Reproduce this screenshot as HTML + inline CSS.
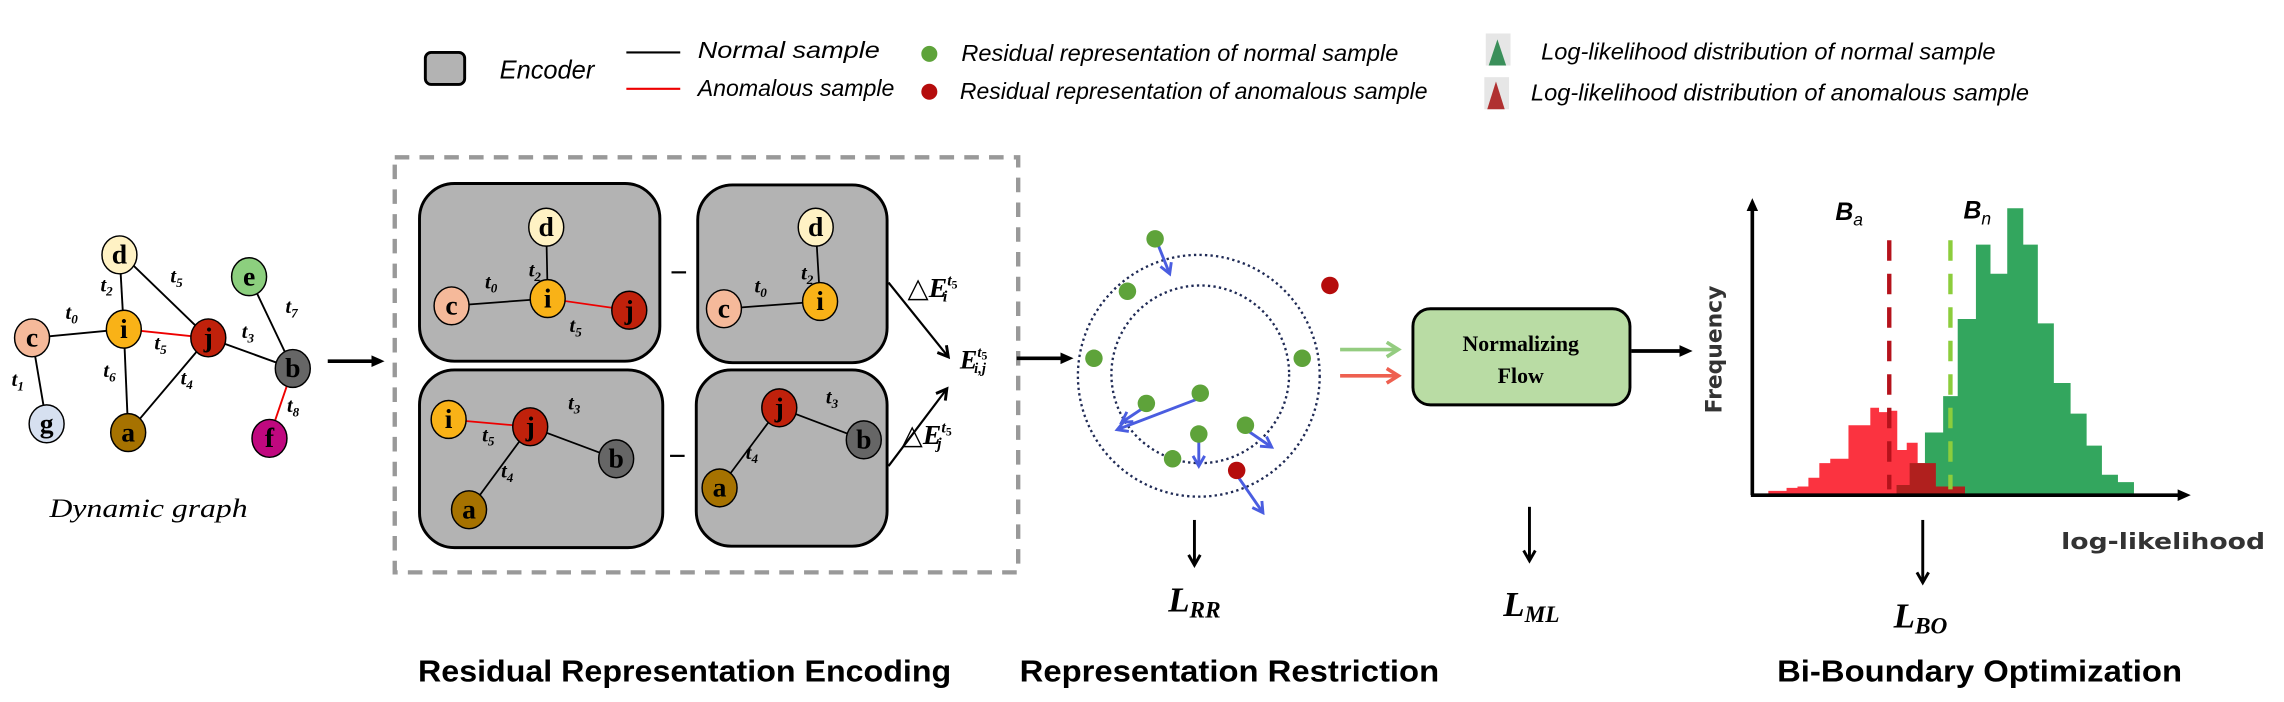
<!DOCTYPE html>
<html><head><meta charset="utf-8"><style>
html,body{margin:0;padding:0;background:#fff;width:2284px;height:702px;overflow:hidden}
svg{display:block}
.n{font-family:"Liberation Serif",serif;font-weight:bold;font-size:19px;text-anchor:middle}
.t{font-family:"Liberation Serif",serif;font-weight:bold;font-style:italic;font-size:14px}
.lg{font-family:"Liberation Sans",sans-serif;font-style:italic;font-size:14px}
.ti{font-family:"Liberation Sans",sans-serif;font-weight:bold;font-size:21px;text-anchor:middle}
.L{font-family:"Liberation Serif",serif;font-weight:bold;font-style:italic;font-size:24px}
</style></head><body>
<svg width="2284" height="702" viewBox="0 0 1568 482" preserveAspectRatio="none" xmlns="http://www.w3.org/2000/svg">
<defs>
<marker id="ah" markerWidth="10" markerHeight="10" refX="8" refY="5" orient="auto" markerUnits="userSpaceOnUse"><path d="M1,1 L8,5 L1,9" fill="none" stroke="#000" stroke-width="2"/></marker>
<marker id="bh" markerWidth="10" markerHeight="10" refX="8" refY="5" orient="auto" markerUnits="userSpaceOnUse"><path d="M1,1 L8,5 L1,9" fill="none" stroke="#4a5de0" stroke-width="2"/></marker>
<marker id="gh" markerWidth="12" markerHeight="12" refX="9" refY="6" orient="auto" markerUnits="userSpaceOnUse"><path d="M1,1 L9,6 L1,11" fill="none" stroke="#94cc80" stroke-width="2.5"/></marker>
<marker id="rh" markerWidth="12" markerHeight="12" refX="9" refY="6" orient="auto" markerUnits="userSpaceOnUse"><path d="M1,1 L9,6 L1,11" fill="none" stroke="#ee6050" stroke-width="2.5"/></marker>
<marker id="kh" markerWidth="10" markerHeight="10" refX="5" refY="5" orient="auto" markerUnits="userSpaceOnUse"><path d="M0,1 L9,5 L0,9 z" fill="#000"/></marker>
</defs>

<rect x="292" y="36" width="27" height="22" rx="4" fill="#b3b3b3" stroke="#000" stroke-width="2"/>
<text class="lg" x="343" y="54" style="font-size:18px" textLength="65" lengthAdjust="spacingAndGlyphs">Encoder</text>
<line x1="430" y1="36" x2="467" y2="36" stroke="#000" stroke-width="1.5"/>
<line x1="430" y1="61" x2="467" y2="61" stroke="#e00" stroke-width="1.5"/>
<text class="lg" x="479" y="40" style="font-size:16px" textLength="125" lengthAdjust="spacingAndGlyphs">Normal sample</text>
<text class="lg" x="479" y="66" style="font-size:16px" textLength="135" lengthAdjust="spacingAndGlyphs">Anomalous sample</text>
<circle cx="638" cy="37" r="5.5" fill="#5ea33a"/>
<circle cx="638" cy="63" r="5.5" fill="#b50c0c"/>
<text class="lg" x="660" y="42" style="font-size:16px" textLength="300" lengthAdjust="spacingAndGlyphs">Residual representation of normal sample</text>
<text class="lg" x="659" y="68" style="font-size:16px" textLength="321" lengthAdjust="spacingAndGlyphs">Residual representation of anomalous sample</text>
<rect x="1020" y="23" width="17" height="22" fill="#e6e6e6"/>
<path d="M1022,45 L1028,27 L1034,45 z" fill="#3a8f5a"/>
<rect x="1019" y="53" width="17" height="22" fill="#e6e6e6"/>
<path d="M1021,75 L1027,56 L1033,75 z" fill="#b03030"/>
<text class="lg" x="1058" y="41" style="font-size:16px" textLength="312" lengthAdjust="spacingAndGlyphs">Log-likelihood distribution of normal sample</text>
<text class="lg" x="1051" y="69" style="font-size:16px" textLength="342" lengthAdjust="spacingAndGlyphs">Log-likelihood distribution of anomalous sample</text>

<g stroke="#000" stroke-width="1.3">
<line x1="22" y1="232" x2="85" y2="226"/><line x1="85" y1="226" x2="82" y2="173"/>
<line x1="82" y1="173" x2="143" y2="232"/><line x1="85" y1="226" x2="88" y2="297"/>
<line x1="143" y1="232" x2="88" y2="297"/><line x1="143" y1="232" x2="201" y2="253"/>
<line x1="171" y1="190" x2="201" y2="253"/><line x1="22" y1="232" x2="32" y2="291"/>
<line x1="85" y1="226" x2="143" y2="232" stroke="#e00"/><line x1="201" y1="253" x2="185" y2="300" stroke="#e00"/>
</g>
<g stroke="#000" stroke-width="1">
<ellipse cx="82" cy="175" rx="12" ry="13" fill="#fff2c4"/>
<ellipse cx="22" cy="232" rx="12" ry="13" fill="#f5b99a"/>
<ellipse cx="85" cy="226" rx="12" ry="13" fill="#f9b217"/>
<ellipse cx="143" cy="232" rx="12" ry="13" fill="#c0210b"/>
<ellipse cx="171" cy="190" rx="12" ry="13" fill="#8ccf7e"/>
<ellipse cx="201" cy="253" rx="12" ry="13" fill="#666"/>
<ellipse cx="32" cy="291" rx="12" ry="13" fill="#d6e0f0"/>
<ellipse cx="88" cy="297" rx="12" ry="13" fill="#a67200"/>
<ellipse cx="185" cy="301" rx="12" ry="13" fill="#c0087f"/>
</g>
<text class="n" x="82" y="181">d</text><text class="n" x="22" y="238">c</text><text class="n" x="85" y="232">i</text><text class="n" x="143" y="238">j</text><text class="n" x="171" y="196">e</text><text class="n" x="201" y="259">b</text><text class="n" x="32" y="297">g</text><text class="n" x="88" y="303">a</text><text class="n" x="185" y="307">f</text>
<text class="t" x="45" y="219">t<tspan font-size="9" dy="3">0</tspan></text>
<text class="t" x="69" y="200">t<tspan font-size="9" dy="3">2</tspan></text>
<text class="t" x="117" y="194">t<tspan font-size="9" dy="3">5</tspan></text>
<text class="t" x="196" y="215">t<tspan font-size="9" dy="3">7</tspan></text>
<text class="t" x="8" y="265">t<tspan font-size="9" dy="3">1</tspan></text>
<text class="t" x="71" y="259">t<tspan font-size="9" dy="3">6</tspan></text>
<text class="t" x="124" y="264">t<tspan font-size="9" dy="3">4</tspan></text>
<text class="t" x="166" y="232">t<tspan font-size="9" dy="3">3</tspan></text>
<text class="t" x="106" y="240">t<tspan font-size="9" dy="3">5</tspan></text>
<text class="t" x="197" y="283">t<tspan font-size="9" dy="3">8</tspan></text>
<text x="34" y="355" font-family="Liberation Serif,serif" font-style="italic" font-size="18" textLength="136" lengthAdjust="spacingAndGlyphs">Dynamic graph</text>
<line x1="225" y1="248" x2="260" y2="248" stroke="#000" stroke-width="2.5" marker-end="url(#kh)"/>

<rect x="271" y="108" width="428" height="285" fill="none" stroke="#999" stroke-width="3" stroke-dasharray="10,7"/>
<g fill="#b3b3b3" stroke="#000" stroke-width="2">
<rect x="288" y="126" width="165" height="122" rx="24"/>
<rect x="479" y="127" width="130" height="122" rx="24"/>
<rect x="288" y="254" width="167" height="122" rx="24"/>
<rect x="478" y="254" width="131" height="121" rx="24"/>
</g>
<g stroke="#000" stroke-width="1.2">
<line x1="309" y1="210" x2="376" y2="205"/><line x1="376" y1="205" x2="375" y2="156"/><line x1="376" y1="205" x2="432" y2="213" stroke="#e00"/>
<line x1="497" y1="212" x2="563" y2="207"/><line x1="563" y1="207" x2="560" y2="156"/>
<line x1="308" y1="288" x2="364" y2="293" stroke="#e00"/><line x1="364" y1="293" x2="423" y2="315"/><line x1="364" y1="293" x2="322" y2="350"/>
<line x1="535" y1="280" x2="593" y2="302"/><line x1="535" y1="280" x2="494" y2="335"/>
</g>
<g stroke="#000" stroke-width="1">
<ellipse cx="375" cy="156" rx="12" ry="13" fill="#fff2c4"/><ellipse cx="310" cy="210" rx="12" ry="13" fill="#f5b99a"/><ellipse cx="376" cy="205" rx="12" ry="13" fill="#f9b217"/><ellipse cx="432" cy="213" rx="12" ry="13" fill="#c0210b"/>
<ellipse cx="560" cy="156" rx="12" ry="13" fill="#fff2c4"/><ellipse cx="497" cy="212" rx="12" ry="13" fill="#f5b99a"/><ellipse cx="563" cy="207" rx="12" ry="13" fill="#f9b217"/>
<ellipse cx="308" cy="288" rx="12" ry="13" fill="#f9b217"/><ellipse cx="364" cy="293" rx="12" ry="13" fill="#c0210b"/><ellipse cx="423" cy="315" rx="12" ry="13" fill="#666"/><ellipse cx="322" cy="350" rx="12" ry="13" fill="#a67200"/>
<ellipse cx="535" cy="280" rx="12" ry="13" fill="#c0210b"/><ellipse cx="593" cy="302" rx="12" ry="13" fill="#666"/><ellipse cx="494" cy="335" rx="12" ry="13" fill="#a67200"/>
</g>
<text class="n" x="375" y="162">d</text><text class="n" x="310" y="216">c</text><text class="n" x="376" y="211">i</text><text class="n" x="432" y="219">j</text>
<text class="n" x="560" y="162">d</text><text class="n" x="497" y="218">c</text><text class="n" x="563" y="213">i</text>
<text class="n" x="308" y="294">i</text><text class="n" x="364" y="299">j</text><text class="n" x="423" y="321">b</text><text class="n" x="322" y="356">a</text>
<text class="n" x="535" y="286">j</text><text class="n" x="593" y="308">b</text><text class="n" x="494" y="341">a</text>
<text class="t" x="363" y="190">t<tspan font-size="9" dy="3">2</tspan></text><text class="t" x="333" y="198">t<tspan font-size="9" dy="3">0</tspan></text><text class="t" x="391" y="228">t<tspan font-size="9" dy="3">5</tspan></text>
<text class="t" x="550" y="192">t<tspan font-size="9" dy="3">2</tspan></text><text class="t" x="518" y="201">t<tspan font-size="9" dy="3">0</tspan></text>
<text class="t" x="331" y="303">t<tspan font-size="9" dy="3">5</tspan></text><text class="t" x="390" y="281">t<tspan font-size="9" dy="3">3</tspan></text><text class="t" x="344" y="328">t<tspan font-size="9" dy="3">4</tspan></text>
<text class="t" x="567" y="277">t<tspan font-size="9" dy="3">3</tspan></text><text class="t" x="512" y="315">t<tspan font-size="9" dy="3">4</tspan></text>
<line x1="461" y1="187" x2="471" y2="187" stroke="#000" stroke-width="1.5"/>
<line x1="460" y1="313" x2="470" y2="313" stroke="#000" stroke-width="1.5"/>
<line x1="610" y1="194" x2="651" y2="245" stroke="#000" stroke-width="1.5" marker-end="url(#ah)"/>
<line x1="610" y1="320" x2="650" y2="267" stroke="#000" stroke-width="1.5" marker-end="url(#ah)"/>
<text x="623" y="204" font-family="Liberation Serif,serif" font-weight="bold" font-size="19"><tspan font-weight="normal">△</tspan><tspan font-style="italic">E</tspan><tspan font-size="11" font-style="italic" dy="-8">t</tspan><tspan font-size="8" dy="2">5</tspan><tspan font-size="11" font-style="italic" dx="-10" dy="9">i</tspan></text>
<text x="619" y="305" font-family="Liberation Serif,serif" font-weight="bold" font-size="19"><tspan font-weight="normal">△</tspan><tspan font-style="italic">E</tspan><tspan font-size="11" font-style="italic" dy="-8">t</tspan><tspan font-size="8" dy="2">5</tspan><tspan font-size="11" font-style="italic" dx="-10" dy="9">j</tspan></text>
<text x="659" y="253" font-family="Liberation Serif,serif" font-weight="bold" font-style="italic" font-size="18">E<tspan font-size="10" dy="-8">t</tspan><tspan font-size="8" dy="2" font-style="normal">5</tspan><tspan font-size="10" dx="-9" dy="9">i,j</tspan></text>
<line x1="698" y1="246" x2="733" y2="246" stroke="#000" stroke-width="2.5" marker-end="url(#kh)"/>

<circle cx="823" cy="258" r="83" fill="none" stroke="#1f2a55" stroke-width="1.6" stroke-dasharray="1.6,2.2"/>
<circle cx="824" cy="257" r="61" fill="none" stroke="#1f2a55" stroke-width="1.6" stroke-dasharray="1.6,2.2"/>
<g stroke="#4a5de0" stroke-width="2" marker-end="url(#bh)">
<line x1="795" y1="168" x2="803" y2="188"/>
<line x1="822" y1="274" x2="767" y2="295"/>
<line x1="823" y1="300" x2="823" y2="320"/>
<line x1="854" y1="294" x2="873" y2="307"/>
<line x1="849" y1="326" x2="867" y2="352"/>
<line x1="785" y1="280" x2="770" y2="290"/>
</g>
<g fill="#5ea33a">
<circle cx="793" cy="164" r="6"/><circle cx="774" cy="200" r="6"/><circle cx="751" cy="246" r="6"/><circle cx="894" cy="246" r="6"/><circle cx="787" cy="277" r="6"/><circle cx="824" cy="270" r="6"/><circle cx="823" cy="298" r="6"/><circle cx="805" cy="315" r="6"/><circle cx="855" cy="292" r="6"/>
</g>
<circle cx="913" cy="196" r="6" fill="#b50c0c"/><circle cx="849" cy="323" r="6" fill="#b50c0c"/>
<line x1="920" y1="240" x2="960" y2="240" stroke="#94cc80" stroke-width="2.5" marker-end="url(#gh)"/>
<line x1="920" y1="258" x2="960" y2="258" stroke="#ee6050" stroke-width="2.5" marker-end="url(#rh)"/>
<rect x="970" y="212" width="149" height="66" rx="12" fill="#b9dca4" stroke="#000" stroke-width="2"/>
<text x="1044" y="241" text-anchor="middle" font-family="Liberation Serif,serif" font-weight="bold" font-size="15">Normalizing</text>
<text x="1044" y="263" text-anchor="middle" font-family="Liberation Serif,serif" font-weight="bold" font-size="15">Flow</text>
<line x1="1120" y1="241" x2="1158" y2="241" stroke="#000" stroke-width="2.5" marker-end="url(#kh)"/>

<path d="M1214,340 V337 H1226.5 V335 H1234 V334 H1241.5 V328 H1249 V318 H1256.5 V315 H1269 V292 H1284 V280 H1290 V283 H1296.5 V282 H1302.5 V309 H1309 V304 H1316.5 V318 H1322 V340 Z" fill="#fb3340"/>
<path d="M1321.5,340 V297 H1334 V272 H1344 V219 H1356.5 V168 H1366.5 V188 H1378 V143 H1389 V168 H1399 V222 H1410 V263 H1421.5 V284 H1432.5 V306 H1443 V326 H1454 V331 H1465 V340 Z" fill="#33a65e"/>
<path d="M1302,340 V333 H1311 V318 H1329 V334 H1349 V340 Z" fill="#b0201e"/>
<line x1="1297" y1="165" x2="1297" y2="336" stroke="#b5121b" stroke-width="3" stroke-dasharray="14,9"/>
<line x1="1339" y1="165" x2="1339" y2="336" stroke="#8ccd3c" stroke-width="3" stroke-dasharray="14,9"/>
<line x1="1203" y1="340" x2="1203" y2="140" stroke="#000" stroke-width="2.5" marker-end="url(#kh)"/>
<line x1="1202" y1="340" x2="1500" y2="340" stroke="#000" stroke-width="2.5" marker-end="url(#kh)"/>
<text x="1260" y="151" font-family="Liberation Sans,sans-serif" font-weight="bold" font-style="italic" font-size="17">B<tspan font-size="12" dy="4" font-weight="normal">a</tspan></text>
<text x="1348" y="150" font-family="Liberation Sans,sans-serif" font-weight="bold" font-style="italic" font-size="17">B<tspan font-size="12" dy="4" font-weight="normal">n</tspan></text>
<text transform="translate(1182,240) rotate(-90)" text-anchor="middle" font-family="DejaVu Sans,sans-serif" font-weight="bold" font-size="15" fill="#333">Frequency</text>
<text x="1415" y="377" font-family="DejaVu Sans,sans-serif" font-weight="bold" font-size="15" fill="#333" textLength="140" lengthAdjust="spacingAndGlyphs">log-likelihood</text>

<line x1="820" y1="357" x2="820" y2="388" stroke="#000" stroke-width="2" marker-end="url(#ah)"/>
<line x1="1050" y1="348" x2="1050" y2="385" stroke="#000" stroke-width="2" marker-end="url(#ah)"/>
<line x1="1320" y1="357" x2="1320" y2="400" stroke="#000" stroke-width="2" marker-end="url(#ah)"/>
<text class="L" x="802" y="420">L<tspan font-size="16" dy="4">RR</tspan></text>
<text class="L" x="1032" y="423">L<tspan font-size="16" dy="4">ML</tspan></text>
<text class="L" x="1300" y="431">L<tspan font-size="16" dy="4">BO</tspan></text>

<text class="ti" x="470" y="468" textLength="366" lengthAdjust="spacingAndGlyphs">Residual Representation Encoding</text>
<text class="ti" x="844" y="468" textLength="288" lengthAdjust="spacingAndGlyphs">Representation Restriction</text>
<text class="ti" x="1359" y="468" textLength="278" lengthAdjust="spacingAndGlyphs">Bi-Boundary Optimization</text>
</svg>
</body></html>
